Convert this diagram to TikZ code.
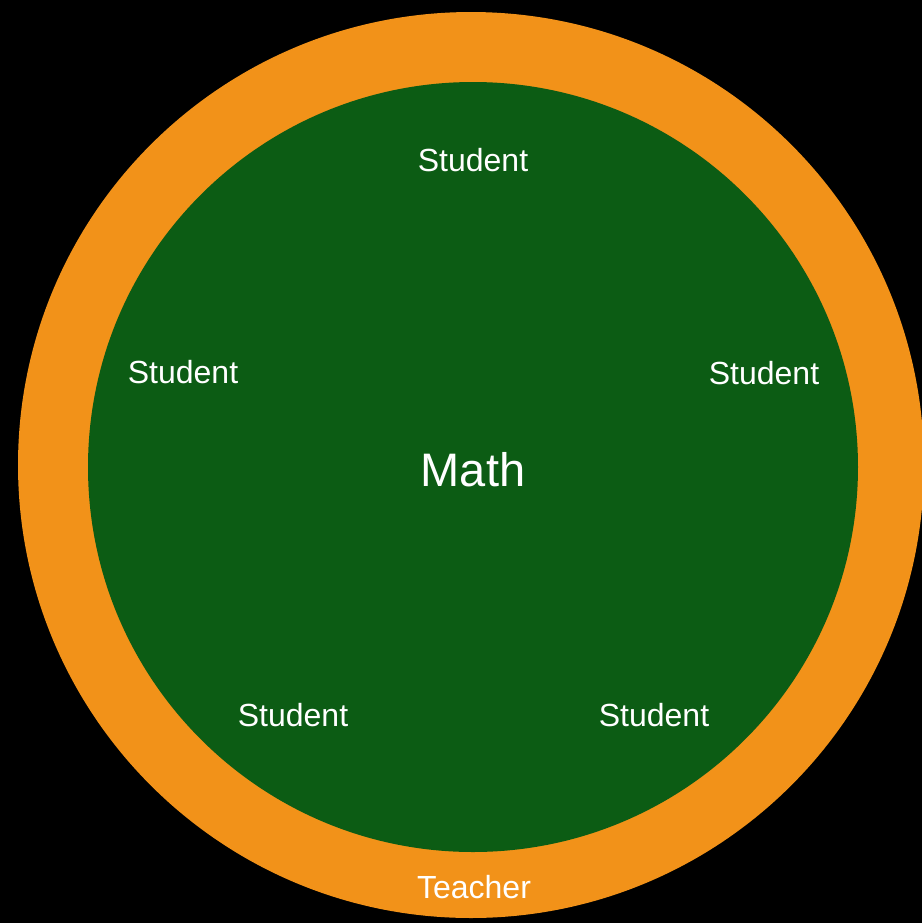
\documentclass[tikz,border=0pt]{standalone}
\usepackage{fontspec}
\setmainfont{Liberation Sans}
\usepackage{xcolor}
\usepackage{tikz}
\usetikzlibrary{positioning}

\definecolor{teacherorange}{HTML}{F29219}
\definecolor{classgreen}{HTML}{0C5C14}

\begin{document}
\begin{tikzpicture}[
 x=0.5pt, y=-0.5pt,
 ring/.style={circle, fill=teacherorange, inner sep=0pt, minimum size=906pt*0.5},
 room/.style={circle, fill=classgreen, inner sep=0pt, minimum size=770pt*0.5},
 student/.style={text=white, font=\fontsize{16}{19}\selectfont, inner sep=0pt},
 subject/.style={text=white, font=\fontsize{23.5}{28}\selectfont, inner sep=0pt}
 ]
 % Background
 \fill[black] (0,0) rectangle (922,923);
 \useasboundingbox (0,0) rectangle (922,923);
 % Circles
 \node[ring] (teacher) at (471,465) {};
 \node[room] (class) at (473,467) {};
 % Labels
 \node[subject] (math) at (473,470) {Math};
 \node[student] (s1) at (473,160) {Student};
 \node[student] (s2) at (183,372) {Student};
 \node[student] (s3) at (764,373) {Student};
 \node[student] (s4) at (293,715) {Student};
 \node[student] (s5) at (654,715) {Student};
 \node[student] (t) at (474,887) {Teacher};
\end{tikzpicture}
\end{document}
